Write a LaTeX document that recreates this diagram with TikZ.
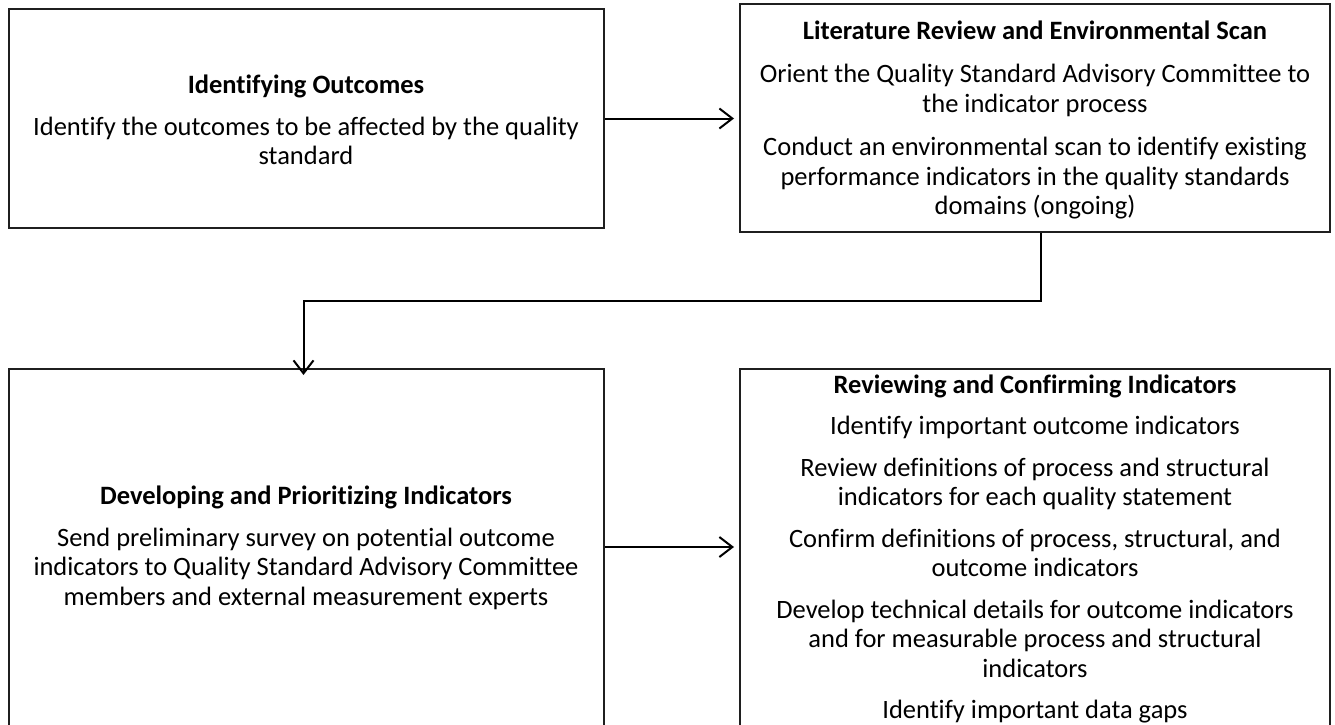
\documentclass[tikz,border=0pt]{standalone}
\usepackage{fontspec}
\setmainfont{Carlito}[Ligatures={NoCommon}]
\usetikzlibrary{arrows.meta}
\begin{document}
\begin{tikzpicture}[x=1pt,y=-1pt,
  box/.style={draw=black!88, line width=2pt, inner sep=0pt},
  txt/.style={align=center, font=\fontsize{26.5}{29.5}\selectfont, inner sep=0pt},
  flow/.style={line width=2pt, -{Straight Barb[length=13pt,width=20pt,line width=2pt]}}
]
\useasboundingbox (0,0) rectangle (1335,725);
\clip (0,0) rectangle (1335,725);

% step boxes (the lower two run past the page edge)
\node[box, minimum width=595pt, minimum height=219pt] (b1) at (306.5,118.5) {};
\node[box, minimum width=590pt, minimum height=228pt] (b2) at (1035,118) {};
\node[box, minimum width=595pt, minimum height=420pt] (b3) at (306.5,579) {};
\node[box, minimum width=590pt, minimum height=420pt] (b4) at (1035,579) {};

% step texts
\node[txt] (t1) at (306,120) {\textbf{Identifying Outcomes}\\[12pt]
  Identify the outcomes to be affected by the quality\\ standard};
\node[txt] (t2) at (1035,120) {\textbf{Literature Review and Environmental Scan}\\[14pt]
  Orient the Quality Standard Advisory Committee to\\ the indicator process\\[14pt]
  Conduct an environmental scan to identify existing\\
  performance indicators in the quality standards\\ domains (ongoing)};
\node[txt] (t3) at (306,548) {\textbf{Developing and Prioritizing Indicators}\\[12pt]
  Send preliminary survey on potential outcome\\
  indicators to Quality Standard Advisory Committee\\
  members and external measurement experts};
\node[txt] (t4) at (1035,549) {\textbf{Reviewing and Confirming Indicators}\\[12pt]
  Identify important outcome indicators\\[12pt]
  Review definitions of process and structural\\
  indicators for each quality statement\\[12pt]
  Confirm definitions of process, structural, and\\ outcome indicators\\[12pt]
  Develop technical details for outcome indicators\\
  and for measurable process and structural\\ indicators\\[12pt]
  Identify important data gaps};

% connectors
\coordinate (row2) at (0,547);
\draw[flow] (b1.east) -- ([xshift=-5pt]b1.east -| b2.west);
\draw[flow] ([xshift=6pt]b2.south) -- ++(0,68) -| ([xshift=-3pt,yshift=-7pt]b3.north);
\draw[flow] (b3.east |- row2) -- ([xshift=-5pt]b4.west |- row2);
\end{tikzpicture}
\end{document}
